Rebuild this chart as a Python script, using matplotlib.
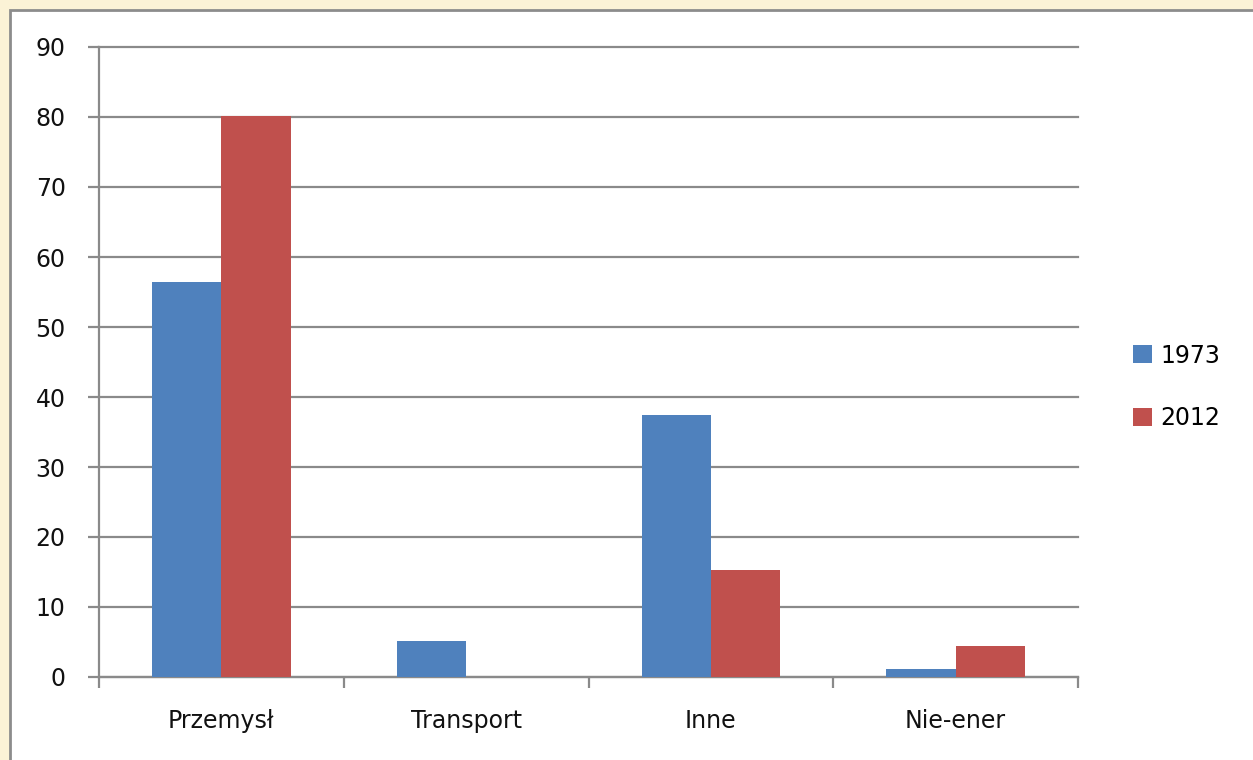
import matplotlib.pyplot as plt
import matplotlib.patches as mpatches
import numpy as np

# -----------------------
# Data
# -----------------------
categories = ["Przemysł", "Transport", "Inne", "Nie-ener"]
years = ["1973", "2012"]
values_1973 = [56.4, 5.1, 37.4, 1.1]
values_2012 = [80.1, 0.0, 15.3, 4.4]
colors = ["#4f81bd", "#c0504d"]
yticks = list(range(0, 91, 10))

# -----------------------
# Figure + frame
# -----------------------
fig = plt.figure(figsize=(12.53, 7.60), dpi=100)
fig.patch.set_facecolor("#fbf2d6")

# white chart panel with grey border (behind the axes)
panel = mpatches.Rectangle((10 / 1253, -0.05), 1.1, 1 - 10 / 760 + 0.05,
                           transform=fig.transFigure, facecolor="white",
                           edgecolor="#8c8c8c", linewidth=2, zorder=-5)
fig.patches.append(panel)

ax = fig.add_axes([99 / 1253, 1 - 677 / 760, (1078 - 99) / 1253, (677 - 47) / 760])
ax.set_zorder(2)
ax.set_facecolor("none")

x = np.arange(len(categories))
w = 0.283
ax.bar(x - w / 2, values_1973, w, color=colors[0], label=years[0], zorder=3)
ax.bar(x + w / 2, values_2012, w, color=colors[1], label=years[1], zorder=3)

# -----------------------
# Axes styling
# -----------------------
grid_c = "#8a8a8a"
fs = 17
ax.set_xlim(-0.5, len(categories) - 0.5)
ax.set_ylim(0, 90)
ax.set_yticks(yticks)
ax.yaxis.grid(True, color=grid_c, linewidth=1.6, zorder=0)
ax.set_axisbelow(True)
for gl in ax.get_ygridlines():
    gl.set_clip_on(False)

for s in ["top", "right"]:
    ax.spines[s].set_visible(False)
ax.spines["left"].set_color(grid_c)
ax.spines["left"].set_linewidth(1.6)
ax.spines["bottom"].set_color(grid_c)
ax.spines["bottom"].set_linewidth(1.6)

ax.set_xticks(x)
ax.set_xticklabels(categories, fontsize=fs, color="#111111")
ax.tick_params(axis="x", length=0, pad=23)
# boundary ticks between categories
ax.set_xticks(np.arange(-0.5, len(categories), 1.0), minor=True)
ax.tick_params(axis="x", which="minor", length=8, width=1.6, color=grid_c)
ax.tick_params(axis="y", length=8, width=1.6, color=grid_c, labelsize=fs,
               labelcolor="#111111", pad=16)

ax.legend(loc="center left", bbox_to_anchor=(1112 / 1253, 1 - 387 / 760),
          bbox_transform=fig.transFigure, frameon=False, fontsize=fs,
          handlelength=0.8, handleheight=0.8, handletextpad=0.35,
          labelspacing=1.65)

plt.savefig("out.png", dpi=100, facecolor=fig.get_facecolor())
